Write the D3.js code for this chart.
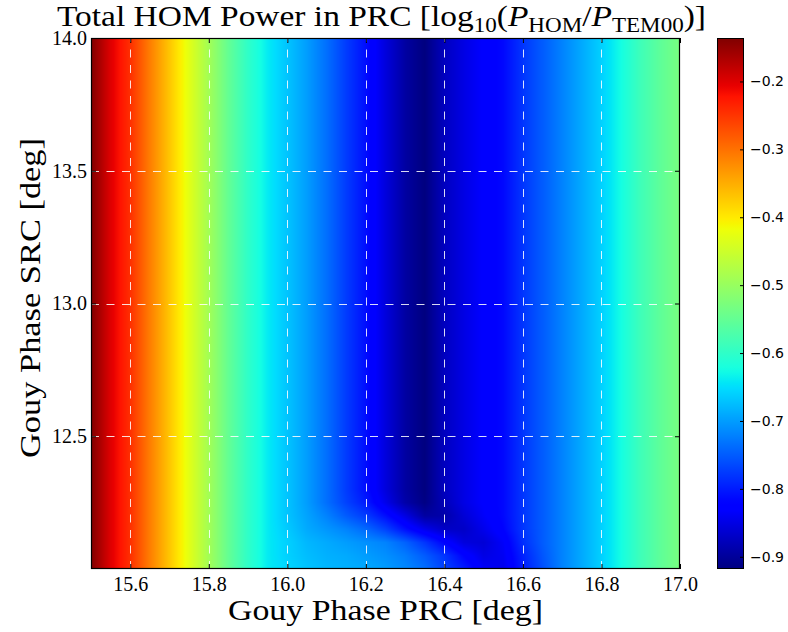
<!DOCTYPE html>
<html><head><meta charset="utf-8">
<script src="https://cdn.jsdelivr.net/npm/d3@7"></script>
<style>body{margin:0;background:#fff;} svg{display:block}</style>
</head><body>
<svg id="chart" width="788" height="632"></svg>
<script>
// ---- data ----
const xGrid = [15.50,15.55,15.60,15.65,15.70,15.75,15.80,15.85,15.90,15.95,16.00,16.05,16.10,16.15,16.20,16.25,16.30,16.35,16.40,16.45,16.50,16.55,16.60,16.65,16.70,16.75,16.80,16.85,16.90,16.95,17.00];
const yGrid = [12.00,12.05,12.10,12.15,12.20,12.25,12.30,14.00];
const row1200 = [-0.136,-0.20,-0.245,-0.31,-0.37,-0.43,-0.49,-0.55,-0.60,-0.64,-0.655,-0.67,-0.68,-0.685,-0.69,-0.70,-0.715,-0.735,-0.77,-0.80,-0.835,-0.845,-0.80,-0.76,-0.72,-0.69,-0.66,-0.625,-0.585,-0.555,-0.53];
const row1205 = [-0.136,-0.20,-0.245,-0.31,-0.37,-0.43,-0.49,-0.55,-0.60,-0.64,-0.66,-0.675,-0.685,-0.69,-0.70,-0.71,-0.725,-0.75,-0.78,-0.82,-0.85,-0.84,-0.795,-0.755,-0.72,-0.69,-0.66,-0.625,-0.585,-0.555,-0.53];
const row1210 = [-0.136,-0.20,-0.245,-0.31,-0.37,-0.43,-0.49,-0.55,-0.60,-0.64,-0.66,-0.68,-0.69,-0.70,-0.71,-0.72,-0.745,-0.78,-0.82,-0.855,-0.86,-0.835,-0.785,-0.75,-0.72,-0.69,-0.66,-0.625,-0.585,-0.555,-0.53];
const row1215 = [-0.136,-0.20,-0.245,-0.31,-0.37,-0.43,-0.49,-0.55,-0.60,-0.64,-0.665,-0.69,-0.705,-0.72,-0.74,-0.77,-0.81,-0.845,-0.87,-0.87,-0.845,-0.82,-0.78,-0.75,-0.72,-0.69,-0.66,-0.625,-0.585,-0.555,-0.53];
const row1220 = [-0.136,-0.20,-0.245,-0.31,-0.37,-0.43,-0.49,-0.55,-0.60,-0.64,-0.67,-0.695,-0.72,-0.75,-0.775,-0.81,-0.85,-0.895,-0.89,-0.86,-0.835,-0.815,-0.78,-0.75,-0.72,-0.69,-0.66,-0.625,-0.585,-0.555,-0.53];
const row1225 = [-0.136,-0.20,-0.245,-0.31,-0.37,-0.43,-0.49,-0.55,-0.60,-0.64,-0.67,-0.70,-0.735,-0.77,-0.80,-0.845,-0.89,-0.915,-0.88,-0.85,-0.83,-0.815,-0.78,-0.75,-0.72,-0.69,-0.66,-0.625,-0.585,-0.555,-0.53];
const row1230 = [-0.136,-0.20,-0.245,-0.31,-0.37,-0.43,-0.49,-0.55,-0.60,-0.64,-0.67,-0.70,-0.735,-0.775,-0.81,-0.855,-0.895,-0.918,-0.875,-0.85,-0.83,-0.815,-0.78,-0.75,-0.72,-0.69,-0.66,-0.625,-0.585,-0.555,-0.53];
const row1400 = [-0.136,-0.20,-0.245,-0.31,-0.37,-0.43,-0.49,-0.55,-0.60,-0.64,-0.67,-0.70,-0.735,-0.775,-0.81,-0.855,-0.895,-0.918,-0.875,-0.85,-0.83,-0.815,-0.78,-0.75,-0.72,-0.69,-0.66,-0.625,-0.585,-0.555,-0.53];
const rows = [row1200,row1205,row1210,row1215,row1220,row1225,row1230,row1400];

const xTicks = [15.6,15.8,16.0,16.2,16.4,16.6,16.8,17.0];
const yTicks = [12.5,13.0,13.5,14.0];
const cbTicks = [-0.2,-0.3,-0.4,-0.5,-0.6,-0.7,-0.8,-0.9];
const colorDomain = [-0.918,-0.136];

// ---- layout ----
const plot = {left:91,right:680,top:38,bottom:569};
const cb = {left:717,right:744,top:38,bottom:569};
const svg = d3.select("#chart");
const x = d3.scaleLinear().domain([15.5,17.0]).range([plot.left,plot.right]);
const y = d3.scaleLinear().domain([12.0,14.0]).range([plot.bottom,plot.top]);
const norm = d3.scaleLinear().domain(colorDomain).range([0,1]).clamp(true);
const jr = d3.scaleLinear().domain([0,0.35,0.66,0.89,1]).range([0,0,1,1,0.5]).clamp(true);
const jg = d3.scaleLinear().domain([0,0.125,0.375,0.64,0.91,1]).range([0,0,1,1,0,0]).clamp(true);
const jb = d3.scaleLinear().domain([0,0.11,0.34,0.65,1]).range([0.5,1,1,0,0]).clamp(true);
const jet = t => [Math.round(jr(t)*255),Math.round(jg(t)*255),Math.round(jb(t)*255)];

function field(xv,yv){
  let i = d3.bisectRight(xGrid,xv)-1; i = Math.max(0,Math.min(xGrid.length-2,i));
  let j = d3.bisectRight(yGrid,yv)-1; j = Math.max(0,Math.min(yGrid.length-2,j));
  const tx = Math.max(0,Math.min(1,(xv-xGrid[i])/(xGrid[i+1]-xGrid[i])));
  const ty = Math.max(0,Math.min(1,(yv-yGrid[j])/(yGrid[j+1]-yGrid[j])));
  const a = rows[j][i]*(1-tx)+rows[j][i+1]*tx;
  const b = rows[j+1][i]*(1-tx)+rows[j+1][i+1]*tx;
  return a*(1-ty)+b*ty;
}

const pw = plot.right-plot.left, ph = plot.bottom-plot.top;
const canvas = document.createElement("canvas");
canvas.width = pw; canvas.height = ph;
const ctx = canvas.getContext("2d");
const img = ctx.createImageData(pw,ph);
for(let py=0;py<ph;py++){
  const yv = y.invert(plot.top+py+0.5);
  for(let px=0;px<pw;px++){
    const xv = x.invert(plot.left+px+0.5);
    const c = jet(norm(field(xv,yv)));
    const k = (py*pw+px)*4;
    img.data[k]=c[0]; img.data[k+1]=c[1]; img.data[k+2]=c[2]; img.data[k+3]=255;
  }
}
ctx.putImageData(img,0,0);
svg.append("image").attr("x",plot.left).attr("y",plot.top).attr("width",pw).attr("height",ph)
  .attr("preserveAspectRatio","none").attr("href",canvas.toDataURL());

// grid
const grid = svg.append("g").attr("stroke","#fff").attr("stroke-opacity",0.85).attr("stroke-width",1).attr("stroke-dasharray","8,7.5");
grid.selectAll(".vg").data(xTicks.filter(d=>d<17)).enter().append("line")
  .attr("x1",d=>Math.round(x(d))+0.5).attr("x2",d=>Math.round(x(d))+0.5).attr("y1",plot.bottom).attr("y2",plot.top);
grid.selectAll(".hg").data(yTicks.filter(d=>d<14)).enter().append("line")
  .attr("y1",d=>Math.round(y(d))+0.5).attr("y2",d=>Math.round(y(d))+0.5).attr("x1",plot.left).attr("x2",plot.right);

// axes
const tickFont = "'Liberation Serif','Times New Roman',serif";
function styleAxis(g){ g.select(".domain").remove(); g.selectAll("line").attr("stroke","#000"); g.selectAll("text").attr("font-family",tickFont).attr("font-size",20).attr("fill","#000"); }
svg.append("g").attr("transform",`translate(0,${plot.bottom})`)
  .call(d3.axisBottom(x).tickValues(xTicks).tickFormat(d3.format(".1f")).tickSizeInner(-5).tickSizeOuter(0).tickPadding(8)).call(styleAxis);
svg.append("g").attr("transform",`translate(0,${plot.top})`)
  .call(d3.axisTop(x).tickValues(xTicks).tickFormat("").tickSizeInner(-5).tickSizeOuter(0)).call(styleAxis);
svg.append("g").attr("transform",`translate(${plot.left},0)`)
  .call(d3.axisLeft(y).tickValues(yTicks).tickFormat(d3.format(".1f")).tickSizeInner(-5).tickSizeOuter(0).tickPadding(4)).call(styleAxis);
svg.append("g").attr("transform",`translate(${plot.right},0)`)
  .call(d3.axisRight(y).tickValues(yTicks).tickFormat("").tickSizeInner(-5).tickSizeOuter(0)).call(styleAxis);
svg.append("rect").attr("x",plot.left+0.5).attr("y",plot.top+0.5).attr("width",pw-1).attr("height",ph-1)
  .attr("fill","none").attr("stroke","#000").attr("stroke-width",1.2);

// colorbar
const cbY = d3.scaleLinear().domain(colorDomain).range([cb.bottom,cb.top]);
const defs = svg.append("defs");
const grad = defs.append("linearGradient").attr("id","jetgrad").attr("x1",0).attr("y1",1).attr("x2",0).attr("y2",0);
grad.selectAll("stop").data(d3.range(0,1.0001,0.01)).enter().append("stop")
  .attr("offset",d=>d).attr("stop-color",d=>{const c=jet(d);return `rgb(${c[0]},${c[1]},${c[2]})`;});
svg.append("rect").attr("x",cb.left).attr("y",cb.top).attr("width",cb.right-cb.left).attr("height",cb.bottom-cb.top)
  .attr("fill","url(#jetgrad)");
svg.append("g").attr("transform",`translate(${cb.right},0)`)
  .call(d3.axisRight(cbY).tickValues(cbTicks).tickFormat(d3.format(".1f")).tickSizeInner(-4).tickSizeOuter(0).tickPadding(6))
  .call(g=>{g.select(".domain").remove(); g.selectAll("line").attr("stroke","#000");
    g.selectAll("text").attr("font-family","'DejaVu Sans',sans-serif").attr("font-size",14).attr("fill","#000");});
svg.append("rect").attr("x",cb.left+0.5).attr("y",cb.top+0.5).attr("width",cb.right-cb.left-1).attr("height",cb.bottom-cb.top-1)
  .attr("fill","none").attr("stroke","#000").attr("stroke-width",1);

// labels
const serif = "'Liberation Serif','Times New Roman',serif";
svg.append("text").attr("x",(plot.left+plot.right)/2).attr("y",620).attr("text-anchor","middle")
  .attr("font-family",serif).attr("font-size",29).attr("textLength",315).attr("lengthAdjust","spacingAndGlyphs")
  .text("Gouy Phase PRC [deg]");
svg.append("text").attr("transform",`translate(40,298) rotate(-90)`).attr("text-anchor","middle")
  .attr("font-family",serif).attr("font-size",30).attr("textLength",320).attr("lengthAdjust","spacingAndGlyphs")
  .text("Gouy Phase SRC [deg]");

const title = svg.append("text").attr("x",381.5).attr("y",26).attr("text-anchor","middle")
  .attr("font-family",serif).attr("font-size",29).attr("textLength",649).attr("lengthAdjust","spacingAndGlyphs");
title.append("tspan").text("Total HOM Power in PRC [log");
title.append("tspan").attr("font-size",20).attr("dy",6).text("10");
title.append("tspan").attr("dy",-6).text("(");
title.append("tspan").attr("font-style","italic").text("P");
title.append("tspan").attr("font-size",20).attr("dy",6).text("HOM");
title.append("tspan").attr("dy",-6).text("/");
title.append("tspan").attr("font-style","italic").text("P");
title.append("tspan").attr("font-size",20).attr("dy",6).text("TEM00");
title.append("tspan").attr("dy",-6).text(")]");
</script>
</body></html>
